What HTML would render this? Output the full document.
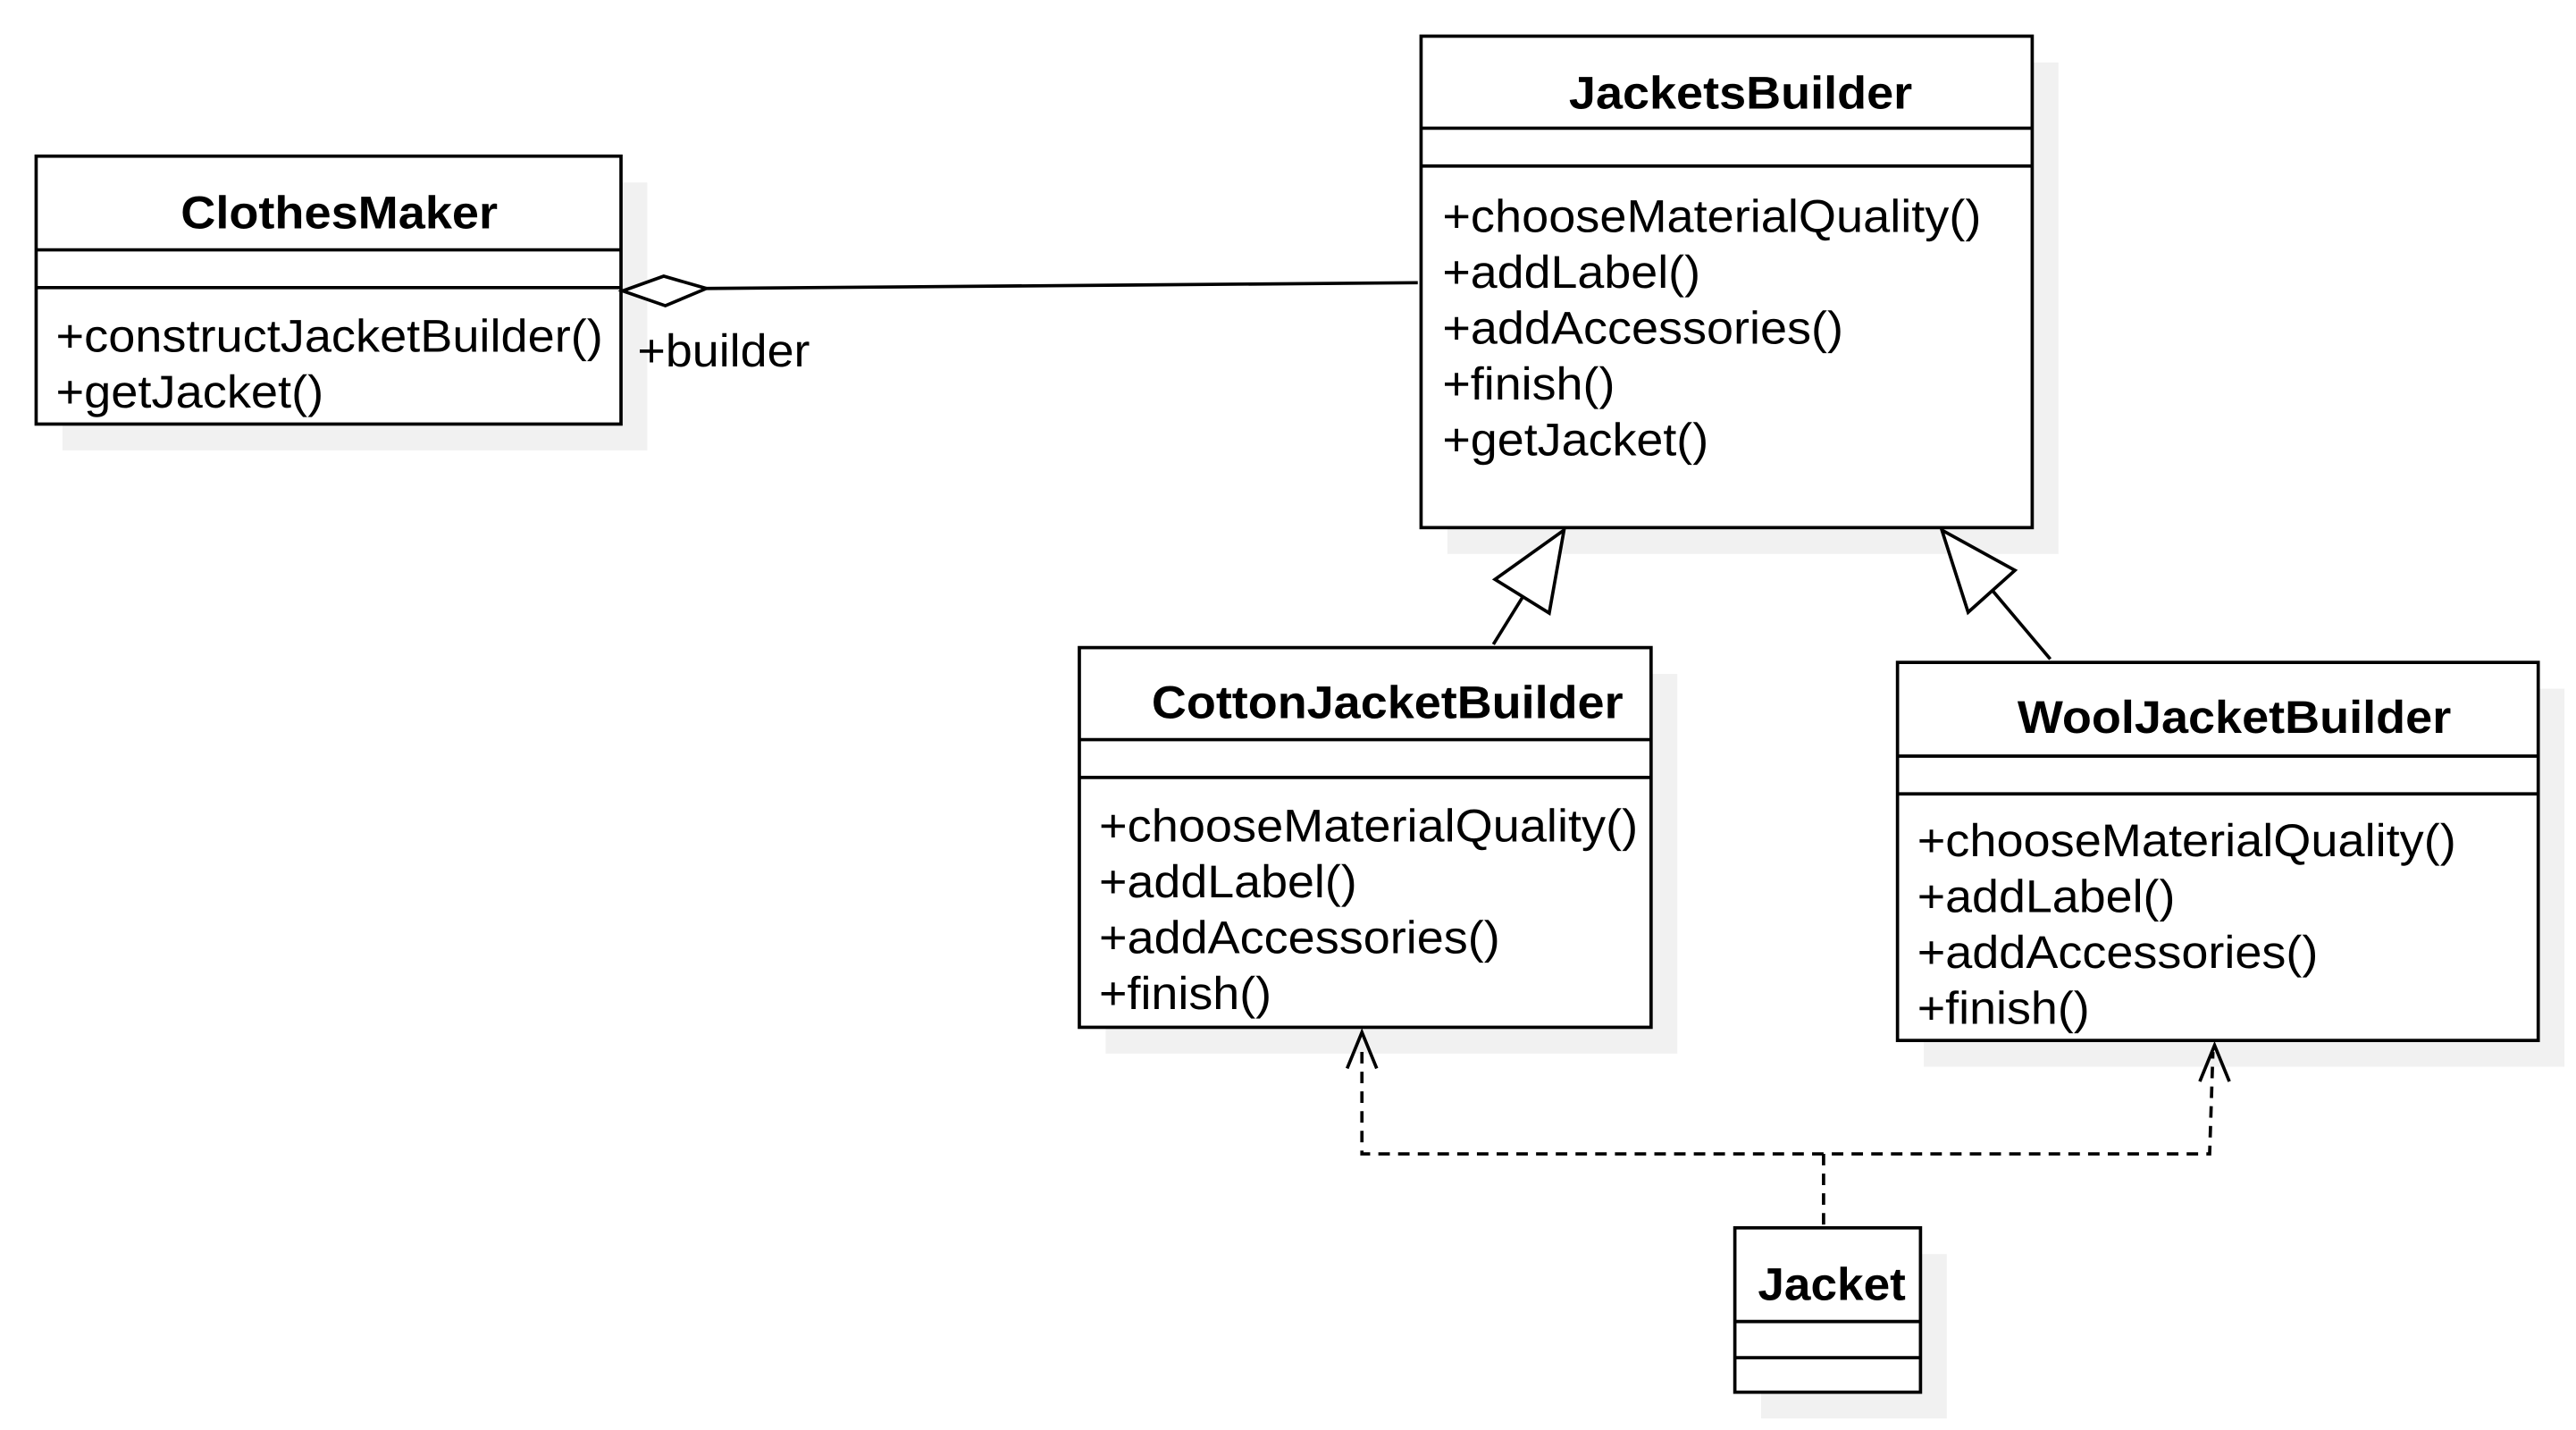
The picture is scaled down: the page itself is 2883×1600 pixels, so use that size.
<!DOCTYPE html>
<html><head><meta charset="utf-8"><style>
html,body{margin:0;padding:0;background:#fff;width:2883px;height:1600px;overflow:hidden}
svg{display:block}
text{font-family:"Liberation Sans",Arial,sans-serif;font-size:28px;fill:#000}
.b{font-weight:bold}
</style></head><body>
<svg width="2883" height="1600" viewBox="0 0 1568 870" preserveAspectRatio="none" xmlns="http://www.w3.org/2000/svg">
<g fill="#f1f1f1">
<rect x="38" y="111" width="356" height="163"/>
<rect x="881" y="38" width="372" height="299"/>
<rect x="673" y="410" width="348" height="231"/>
<rect x="1171" y="419" width="390" height="230"/>
<rect x="1072" y="763" width="113" height="100"/>
</g>
<g fill="#fff" stroke="#000" stroke-width="2">
<rect x="22" y="95" width="356" height="163"/>
<line x1="22" y1="152" x2="378" y2="152"/><line x1="22" y1="175" x2="378" y2="175"/>
<rect x="865" y="22" width="372" height="299"/>
<line x1="865" y1="78" x2="1237" y2="78"/><line x1="865" y1="101" x2="1237" y2="101"/>
<rect x="657" y="394" width="348" height="231"/>
<line x1="657" y1="450" x2="1005" y2="450"/><line x1="657" y1="473" x2="1005" y2="473"/>
<rect x="1155" y="403" width="390" height="230"/>
<line x1="1155" y1="460" x2="1545" y2="460"/><line x1="1155" y1="483" x2="1545" y2="483"/>
<rect x="1056" y="747" width="113" height="100"/>
<line x1="1056" y1="804" x2="1169" y2="804"/><line x1="1056" y1="826" x2="1169" y2="826"/>
</g>
<g stroke="#000" stroke-width="2" fill="none">
<line x1="430" y1="175.5" x2="863" y2="172"/>
<polygon points="379,177 404,168 430,175.5 405,186" fill="#fff"/>
<line x1="927" y1="363" x2="909" y2="392"/>
<polygon points="952,322.5 910,352.5 943,373" fill="#fff"/>
<line x1="1213" y1="359.5" x2="1248" y2="401"/>
<polygon points="1182,322.5 1226.5,347 1198,372.5" fill="#fff"/>
<g stroke-dasharray="7,5">
<line x1="1110" y1="745" x2="1110" y2="702"/>
<polyline points="829,640 829,702 1345,702 1347,640"/>
</g>
<polyline points="820,650 829,628 838,650"/>
<polyline points="1339,658 1348,636 1357,658"/>
</g>
<g style="text-rendering:geometricPrecision">
<text class="b" x="110" y="139" textLength="193" lengthAdjust="spacingAndGlyphs">ClothesMaker</text>
<text x="34" y="214" textLength="333" lengthAdjust="spacingAndGlyphs">+constructJacketBuilder()</text>
<text x="34" y="248" textLength="163" lengthAdjust="spacingAndGlyphs">+getJacket()</text>
<text x="388" y="223" textLength="105" lengthAdjust="spacingAndGlyphs">+builder</text>
<text class="b" x="955" y="66" textLength="209" lengthAdjust="spacingAndGlyphs">JacketsBuilder</text>
<text x="878" y="141" textLength="328" lengthAdjust="spacingAndGlyphs">+chooseMaterialQuality()</text>
<text x="878" y="175" textLength="157" lengthAdjust="spacingAndGlyphs">+addLabel()</text>
<text x="878" y="209" textLength="244" lengthAdjust="spacingAndGlyphs">+addAccessories()</text>
<text x="878" y="243" textLength="105" lengthAdjust="spacingAndGlyphs">+finish()</text>
<text x="878" y="277" textLength="162" lengthAdjust="spacingAndGlyphs">+getJacket()</text>
<text class="b" x="701" y="437" textLength="287" lengthAdjust="spacingAndGlyphs">CottonJacketBuilder</text>
<text x="669" y="512" textLength="328" lengthAdjust="spacingAndGlyphs">+chooseMaterialQuality()</text>
<text x="669" y="546" textLength="157" lengthAdjust="spacingAndGlyphs">+addLabel()</text>
<text x="669" y="580" textLength="244" lengthAdjust="spacingAndGlyphs">+addAccessories()</text>
<text x="669" y="614" textLength="105" lengthAdjust="spacingAndGlyphs">+finish()</text>
<text class="b" x="1228" y="446" textLength="264" lengthAdjust="spacingAndGlyphs">WoolJacketBuilder</text>
<text x="1167" y="521" textLength="328" lengthAdjust="spacingAndGlyphs">+chooseMaterialQuality()</text>
<text x="1167" y="555" textLength="157" lengthAdjust="spacingAndGlyphs">+addLabel()</text>
<text x="1167" y="589" textLength="244" lengthAdjust="spacingAndGlyphs">+addAccessories()</text>
<text x="1167" y="623" textLength="105" lengthAdjust="spacingAndGlyphs">+finish()</text>
<text class="b" x="1070" y="791" textLength="90" lengthAdjust="spacingAndGlyphs">Jacket</text>
</g>
</svg>
</body></html>
